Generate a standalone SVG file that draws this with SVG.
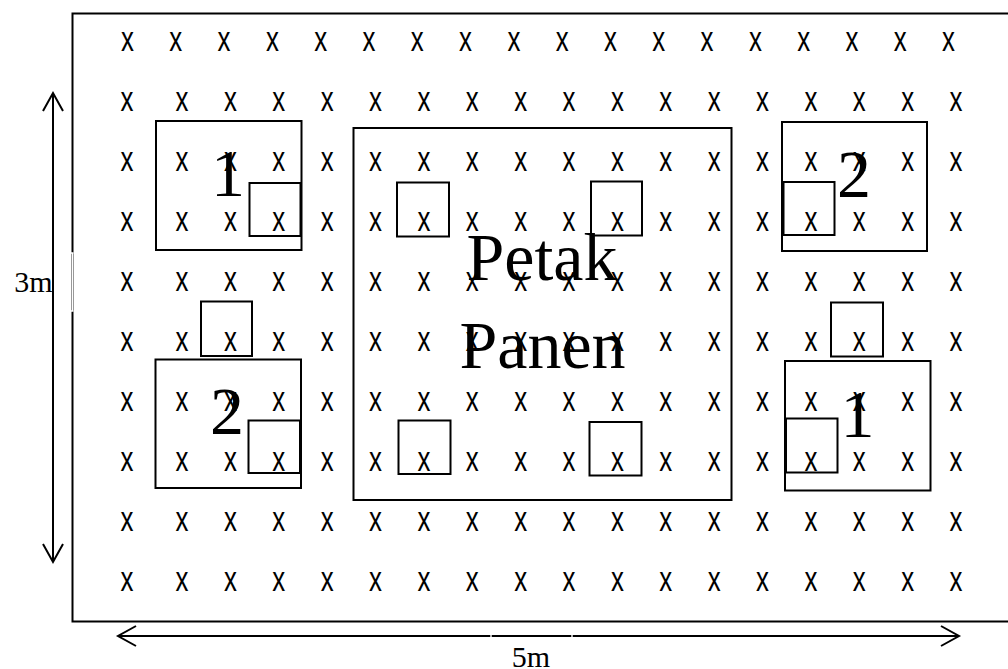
<svg xmlns="http://www.w3.org/2000/svg" width="1008" height="669" viewBox="0 0 1008 669">
<style>
.bg{fill:#fff}
.box{fill:none;stroke:#000;stroke-width:2}
.plant{font-family:"Liberation Sans",Arial,sans-serif;font-size:34.5px;fill:#000;text-anchor:middle}
.big{font-family:"Liberation Serif","Times New Roman",serif;font-size:68px;fill:#000;text-anchor:middle}
.dim{font-family:"Liberation Serif","Times New Roman",serif;font-size:30px;fill:#000}
.arrow{fill:none;stroke:#000;stroke-width:2;marker-start:url(#head);marker-end:url(#head)}
.gap{stroke:#fff;stroke-width:1.4;fill:none}
</style>
<defs>
<marker id="head" markerUnits="userSpaceOnUse" markerWidth="24" markerHeight="24" viewBox="-20 -12 24 24" refX="0" refY="0" orient="auto-start-reverse">
<path d="M-18,-10 L0,0 L-18,10" fill="none" stroke="#000" stroke-width="2"/>
</marker>
</defs>
<rect class="bg" x="0" y="0" width="1008" height="669"/>
<g id="field">
<rect class="box" x="72.5" y="13.5" width="950" height="608"/>
</g>
<g id="plants" transform="scale(0.75 1)">
<text class="plant" y="51" x="170 234.4 298.8 363.2 427.6 492 556.4 620.8 685.2 749.6 814 878.4 942.8 1007.2 1071.6 1136 1200.4 1264.8">xxxxxxxxxxxxxxxxxx</text>
<text class="plant" y="111" x="169.33 242.67 307.17 371.67 436.17 500.67 565.17 629.67 694.17 758.67 823.17 887.67 952.17 1016.67 1081.17 1145.67 1210.17 1274.67">xxxxxxxxxxxxxxxxxx</text>
<text class="plant" y="171" x="169.33 242.67 307.17 371.67 436.17 500.67 565.17 629.67 694.17 758.67 823.17 887.67 952.17 1016.67 1081.17 1145.67 1210.17 1274.67">xxxxxxxxxxxxxxxxxx</text>
<text class="plant" y="231" x="169.33 242.67 307.17 371.67 436.17 500.67 565.17 629.67 694.17 758.67 823.17 887.67 952.17 1016.67 1081.17 1145.67 1210.17 1274.67">xxxxxxxxxxxxxxxxxx</text>
<text class="plant" y="291" x="169.33 242.67 307.17 371.67 436.17 500.67 565.17 629.67 694.17 758.67 823.17 887.67 952.17 1016.67 1081.17 1145.67 1210.17 1274.67">xxxxxxxxxxxxxxxxxx</text>
<text class="plant" y="351" x="169.33 242.67 307.17 371.67 436.17 500.67 565.17 629.67 694.17 758.67 823.17 887.67 952.17 1016.67 1081.17 1145.67 1210.17 1274.67">xxxxxxxxxxxxxxxxxx</text>
<text class="plant" y="411" x="169.33 242.67 307.17 371.67 436.17 500.67 565.17 629.67 694.17 758.67 823.17 887.67 952.17 1016.67 1081.17 1145.67 1210.17 1274.67">xxxxxxxxxxxxxxxxxx</text>
<text class="plant" y="471" x="169.33 242.67 307.17 371.67 436.17 500.67 565.17 629.67 694.17 758.67 823.17 887.67 952.17 1016.67 1081.17 1145.67 1210.17 1274.67">xxxxxxxxxxxxxxxxxx</text>
<text class="plant" y="531" x="169.33 242.67 307.17 371.67 436.17 500.67 565.17 629.67 694.17 758.67 823.17 887.67 952.17 1016.67 1081.17 1145.67 1210.17 1274.67">xxxxxxxxxxxxxxxxxx</text>
<text class="plant" y="591" x="169.33 242.67 307.17 371.67 436.17 500.67 565.17 629.67 694.17 758.67 823.17 887.67 952.17 1016.67 1081.17 1145.67 1210.17 1274.67">xxxxxxxxxxxxxxxxxx</text>
</g>
<g id="plot-1-left">
<rect class="box" x="156" y="121" width="145.5" height="129"/>
<rect class="box" x="249.5" y="183" width="51" height="53"/>
<text class="big" x="228" y="196">1</text>
</g>
<g id="plot-2-left">
<rect class="box" x="201" y="301.5" width="51" height="54.5"/>
<rect class="box" x="155.5" y="359.5" width="145.5" height="128.5"/>
<rect class="box" x="248.5" y="420.5" width="51.5" height="52.5"/>
<text class="big" x="227" y="434">2</text>
</g>
<g id="petak-panen">
<rect class="box" x="353.5" y="128" width="378" height="372"/>
<rect class="box" x="397" y="182.5" width="52" height="54"/>
<rect class="box" x="591" y="181.5" width="51" height="54"/>
<rect class="box" x="398.5" y="420.5" width="52" height="53.5"/>
<rect class="box" x="589.5" y="422" width="52" height="53.5"/>
<text class="big" x="542" y="280">Petak</text>
<text class="big" x="542.5" y="368">Panen</text>
</g>
<g id="plot-2-right">
<rect class="box" x="782" y="122" width="145" height="129"/>
<rect class="box" x="783.5" y="182" width="51" height="53"/>
<text class="big" x="854" y="197">2</text>
</g>
<g id="plot-1-right">
<rect class="box" x="831" y="302.5" width="52" height="54"/>
<rect class="box" x="785" y="361" width="145.5" height="129.5"/>
<rect class="box" x="786" y="418.5" width="51.5" height="54"/>
<text class="big" x="857.5" y="437">1</text>
</g>
<g id="connectors">
<line class="arrow" x1="53" y1="93" x2="53" y2="562"/>
<line class="arrow" x1="118" y1="636" x2="959" y2="636"/>
</g>
<g id="dimension-labels">
<path class="gap" d="M54,253 H73.5 M72.5,253 V311 M54,311 H73.5"/>
<path class="gap" d="M491,634 V638 M572,634 V638"/>
<text class="dim" x="52.5" y="291.5" text-anchor="end">3m</text>
<text class="dim" x="531" y="667" text-anchor="middle">5m</text>
</g>
</svg>
